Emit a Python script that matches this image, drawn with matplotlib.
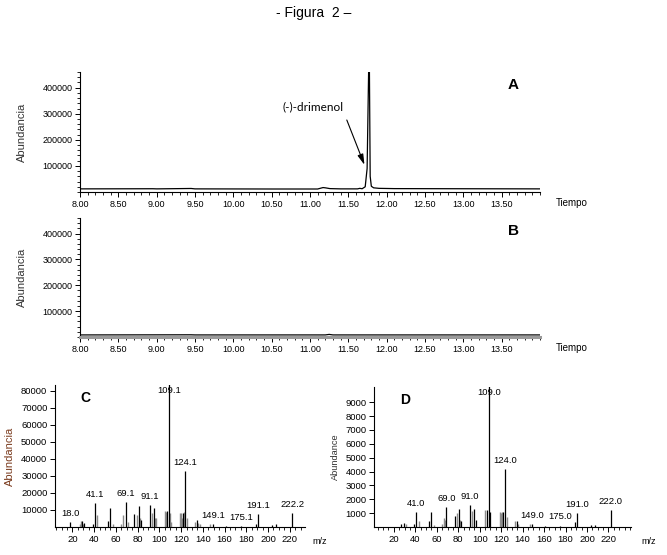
import matplotlib
matplotlib.use('Agg')
import matplotlib.pyplot as plt
from matplotlib.ticker import MultipleLocator, FixedLocator

plt.rcParams['font.family'] = 'Liberation Sans'

# chromatogram A: (time, abundance)
time_a = [8.00, 8.95, 9.00, 9.45, 9.50, 10.50, 11.10, 11.17, 11.20, 11.26, 11.40,
          11.62, 11.65, 11.68, 11.72, 11.745, 11.765, 11.775, 11.785, 11.80, 11.83,
          11.90, 12.10, 13.00, 14.00]
abund_a = [12000, 12500, 12000, 13500, 12000, 11500, 11500, 17000, 16000, 13000, 12000,
           12000, 14000, 12500, 20000, 90000, 470000, 470000, 60000, 22000, 16000,
           14000, 13000, 12500, 12000]

# chromatogram B: blank, nearly flat
time_b = [8.00, 9.45, 9.50, 11.20, 11.25, 11.30, 12.00, 14.00]
abund_b = [8000, 8500, 8000, 8000, 10000, 8000, 8000, 8000]

# spectrum C (sample, 11.77 min)
mz_c_main = [18, 29, 31, 39, 41, 53, 55, 69, 77, 81, 83, 91, 95, 107, 109, 122, 124,
             135, 149, 161, 175, 189, 191, 204, 207, 222]
int_c_main = [2900, 3300, 2500, 2000, 14000, 3500, 11100, 14600, 7400, 12500, 4000,
              13000, 11100, 9300, 92000, 8000, 33000, 4000, 1500, 500, 600, 2000, 7400,
              1200, 1500, 8400]
mz_c_minor = [27, 28, 30, 43, 57, 65, 67, 71, 79, 82, 93, 96, 97, 105, 106, 110, 111,
              119, 120, 121, 123, 125, 133, 136, 137, 147]
int_c_minor = [2000, 3300, 2000, 6800, 2000, 2000, 6800, 3000, 6800, 5000, 8500, 5000,
               5500, 9100, 9000, 8000, 3000, 8000, 8000, 5000, 8800, 5000, 3000, 2500,
               1500, 1800]
labels_c = ['18.0', '41.1', '69.1', '91.1', '109.1', '124.1', '149.1', '175.1', '191.1', '222.2']

# spectrum D (library, drimenol)
mz_d_main = [27, 29, 39, 41, 53, 55, 69, 77, 81, 83, 91, 95, 97, 107, 109, 110, 122, 124,
             135, 149, 161, 175, 189, 191, 204, 207, 222]
int_d_main = [250, 300, 250, 1100, 400, 1070, 1420, 800, 1300, 400, 1590, 1300, 520, 1230,
              10500, 1050, 1100, 4200, 450, 200, 100, 100, 360, 1000, 150, 150, 1250]
mz_d_minor = [31, 43, 57, 65, 67, 68, 79, 82, 93, 105, 119, 120, 121, 125, 133, 136, 147]
int_d_minor = [200, 400, 150, 200, 640, 500, 1000, 500, 1180, 1230, 1100, 1000, 1100, 700,
               400, 200, 200]
labels_d = ['41.0', '69.0', '91.0', '109.0', '124.0', '149.0', '175.0', '191.0', '222.0']

W, H = 667, 555
fig = plt.figure(figsize=(W / 100, H / 100), dpi=100)


def box(x0, y0, x1, y1):
    return [x0 / W, 1 - y1 / H, (x1 - x0) / W, (y1 - y0) / H]


def style(ax, fs):
    for s in ['top', 'right']:
        ax.spines[s].set_visible(False)
    for s in ['left', 'bottom']:
        ax.spines[s].set_linewidth(0.8)
    ax.tick_params(which='major', direction='out', length=3.5, width=0.7, labelsize=fs, pad=2)
    ax.tick_params(which='minor', direction='out', length=2, width=0.6)


def chrom(ax, t, a, name):
    ax.plot(t, a, color='black', lw=0.9)
    ax.set_xlim(8.0, 14.0)
    ax.set_ylim(0, 460000)
    ax.xaxis.set_major_locator(FixedLocator([8 + 0.5 * i for i in range(12)]))
    ax.xaxis.set_major_formatter(plt.FuncFormatter(lambda v, p: '%.2f' % v))
    ax.xaxis.set_minor_locator(MultipleLocator(0.1))
    ax.yaxis.set_major_locator(FixedLocator([100000, 200000, 300000, 400000]))
    ax.yaxis.set_minor_locator(MultipleLocator(20000))
    style(ax, 6.5)
    ax.set_ylabel('Abundancia', fontsize=8, color='#333333', labelpad=11)
    ax.text(0.93, 0.86, name, transform=ax.transAxes, fontsize=11, fontweight='bold')
    ax.text(1.035, -0.09, 'Tiempo', transform=ax.transAxes, fontsize=7, va='center')


ax_a = fig.add_axes(box(80, 72, 540, 192))
chrom(ax_a, time_a, abund_a, 'A')
ax_a.text(11.04, 326000, '(-)-drimenol', fontsize=8.5, family='Lato', ha='center', va='center')
ax_a.annotate('', xy=(11.71, 104000), xytext=(11.48, 276000),
              arrowprops=dict(arrowstyle='-|>,head_length=0.9,head_width=0.25',
                              color='black', lw=0.8, shrinkA=0, shrinkB=0,
                              mutation_scale=7))

ax_b = fig.add_axes(box(80, 218, 540, 337))
chrom(ax_b, time_b, abund_b, 'B')
ax_b.spines['bottom'].set_color('#9a9a9a')
ax_b.spines['bottom'].set_linewidth(2.2)


def spectrum(ax, mz_main, int_main, mz_minor, int_minor, labels, ymax, xlim, yticks, name):
    ax.vlines(mz_minor, 0, int_minor, colors='#8c8c8c', lw=1.0)
    ax.vlines(mz_main, 0, int_main, colors='black', lw=0.9)
    ax.set_xlim(*xlim)
    ax.set_ylim(0, ymax)
    lookup = dict(zip(mz_minor, int_minor))
    lookup.update(zip(mz_main, int_main))
    for lab in labels:
        m = round(float(lab))
        h = lookup.get(m, 0)
        if h >= ymax:
            ax.text(float(lab), ymax * 0.995, lab, fontsize=6.8, ha='center', va='top')
        else:
            ax.annotate(lab, xy=(float(lab), h), xytext=(0, 3), textcoords='offset points',
                        fontsize=6.8, ha='center', va='bottom')
    ax.xaxis.set_major_locator(FixedLocator(list(range(20, 221, 20))))
    ax.xaxis.set_minor_locator(MultipleLocator(5))
    ax.yaxis.set_major_locator(FixedLocator(yticks))
    style(ax, 6.8)
    ax.text(0.1, 0.88, name, transform=ax.transAxes, fontsize=10, fontweight='bold')


ax_c = fig.add_axes(box(55, 385, 305, 527))
spectrum(ax_c, mz_c_main, int_c_main, mz_c_minor, int_c_minor, labels_c, 83300,
         (4, 234), [10000 * i for i in range(1, 9)], 'C')
ax_c.set_ylabel('Abundancia', fontsize=8, color='#7a3b1e', labelpad=4)
ax_c.text(1.03, -0.1, 'm/z', transform=ax_c.transAxes, fontsize=6.5, va='center')

ax_d = fig.add_axes(box(374, 387, 631, 527))
spectrum(ax_d, mz_d_main, int_d_main, mz_d_minor, int_d_minor, labels_d, 10100,
         (1.5, 241), [1000 * i for i in range(1, 10)], 'D')
ax_d.set_ylabel('Abundance', fontsize=6.7, color='#333333', labelpad=4)
ax_d.text(1.04, -0.1, 'm/z', transform=ax_d.transAxes, fontsize=6.5, va='center')

fig.text(314 / W, 1 - 13 / H, '- Figura  2 \u2013', fontsize=10, ha='center', va='center')

fig.savefig('out.png', dpi=100)
